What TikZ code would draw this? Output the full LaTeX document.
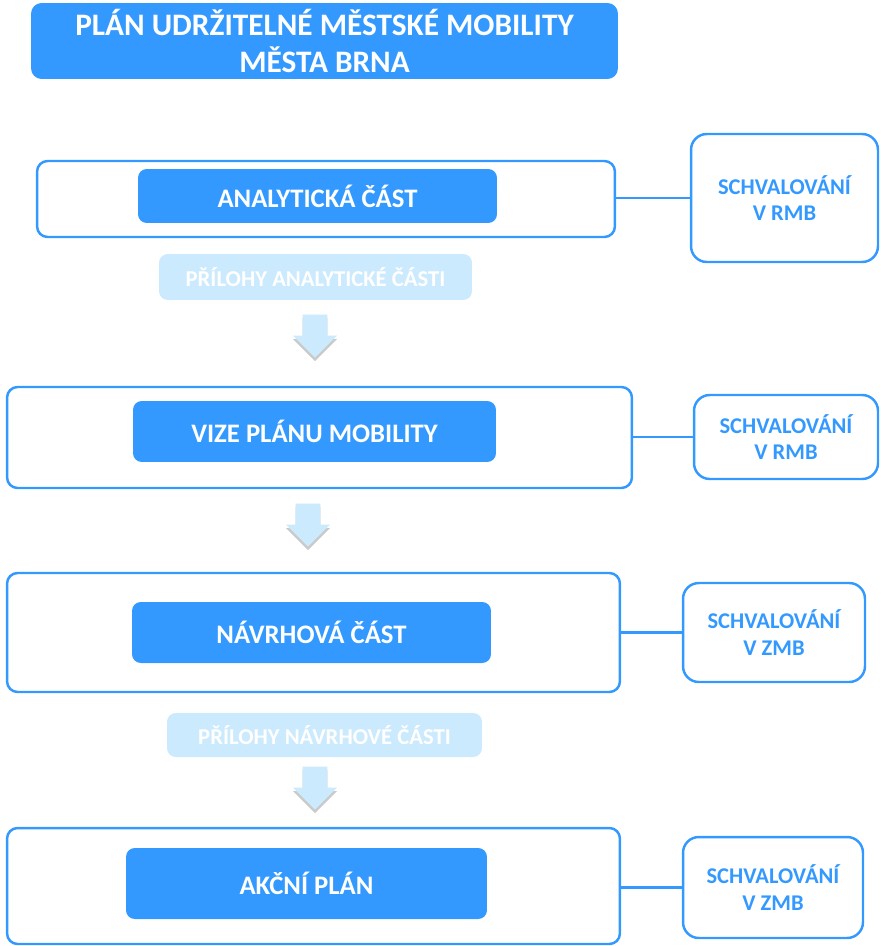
\documentclass[tikz,border=0pt]{standalone}
\usepackage{fontspec}
\setmainfont{Carlito}
\usetikzlibrary{shapes.arrows,shadows}

\definecolor{mobblue}{HTML}{3399FF}
\definecolor{paleblue}{HTML}{CCEAFD}

\tikzset{
    titlebox/.style={fill=mobblue, rounded corners=6pt, text=white, align=center, inner sep=0pt,
        font=\fontsize{17.8}{21}\selectfont\bfseries},
    partframe/.style={draw=mobblue, line width=1.4pt, rounded corners=6pt, fill=white, inner sep=0pt},
    partbox/.style={fill=mobblue, rounded corners=5pt, text=white, inner sep=0pt,
        font=\fontsize{15.2}{18}\selectfont\bfseries},
    approvebox/.style={draw=mobblue, line width=1.4pt, rounded corners=9pt, text=mobblue, align=center, inner sep=0pt,
        font=\fontsize{12.8}{15}\selectfont\bfseries},
    annexbox/.style={fill=paleblue, rounded corners=5pt, text=white, inner sep=0pt,
        font=\fontsize{12.9}{15}\selectfont\bfseries},
    flowarrow/.style={single arrow, fill=paleblue, rotate=-90, anchor=tip, minimum height=0.86cm,
        inner xsep=0pt, inner ysep=0.24cm, single arrow head extend=0.19cm,
        drop shadow={shadow xshift=0pt, shadow yshift=-2pt, opacity=0.35, fill=black!60}},
    link/.style={draw=mobblue, line width=1.4pt}
}

\begin{document}
\begin{tikzpicture}[x=0.02cm, y=-0.02cm]
    \useasboundingbox (0,0) rectangle (880,946);

    % title
    \node[titlebox, minimum width=11.74cm, minimum height=1.52cm] (title) at (324.5,41)
        {PLÁN UDRŽITELNÉ MĚSTSKÉ MOBILITY\\MĚSTA BRNA};

    % analyticka cast
    \node[partframe, minimum width=11.56cm, minimum height=1.52cm] (frame1) at (326,199) {};
    \node[partbox, minimum width=7.18cm, minimum height=1.08cm] (part1) at (317.5,196) {ANALYTICKÁ ČÁST};
    \node[approvebox, minimum width=3.74cm, minimum height=2.56cm] (check1) at (784.5,198) {SCHVALOVÁNÍ\\V RMB};
    \draw[link] (frame1.east |- check1.west) -- (check1.west);

    \node[annexbox, minimum width=6.26cm, minimum height=0.92cm] (annex1) at (315.5,277) {PŘÍLOHY ANALYTICKÉ ČÁSTI};
    \node[flowarrow] (arrow1) at (315,358) {};

    % vize
    \node[partframe, minimum width=12.5cm, minimum height=2.02cm] (frame2) at (319.5,437.5) {};
    \node[partbox, minimum width=7.26cm, minimum height=1.22cm] (part2) at (314.5,431.5) {VIZE PLÁNU MOBILITY};
    \node[approvebox, minimum width=3.68cm, minimum height=1.68cm] (check2) at (786,437) {SCHVALOVÁNÍ\\V RMB};
    \draw[link] (frame2.east |- check2.west) -- (check2.west);

    \node[flowarrow] (arrow2) at (308,547) {};

    % navrhova cast
    \node[partframe, minimum width=12.26cm, minimum height=2.38cm] (frame3) at (313.5,632.5) {};
    \node[partbox, minimum width=7.18cm, minimum height=1.22cm] (part3) at (311.5,632.5) {NÁVRHOVÁ ČÁST};
    \node[approvebox, minimum width=3.64cm, minimum height=1.98cm] (check3) at (774,632.5) {SCHVALOVÁNÍ\\V ZMB};
    \draw[link] (frame3.east |- check3.west) -- (check3.west);

    \node[annexbox, minimum width=6.3cm, minimum height=0.88cm] (annex2) at (324.5,735) {PŘÍLOHY NÁVRHOVÉ ČÁSTI};
    \node[flowarrow] (arrow3) at (315,810) {};

    % akcni plan
    \node[partframe, minimum width=12.26cm, minimum height=2.32cm] (frame4) at (313.5,886) {};
    \node[partbox, minimum width=7.22cm, minimum height=1.42cm] (part4) at (306.5,883.5) {AKČNÍ PLÁN};
    \node[approvebox, minimum width=3.6cm, minimum height=2.02cm] (check4) at (773,887.5) {SCHVALOVÁNÍ\\V ZMB};
    \draw[link] (frame4.east |- check4.west) -- (check4.west);
\end{tikzpicture}
\end{document}
